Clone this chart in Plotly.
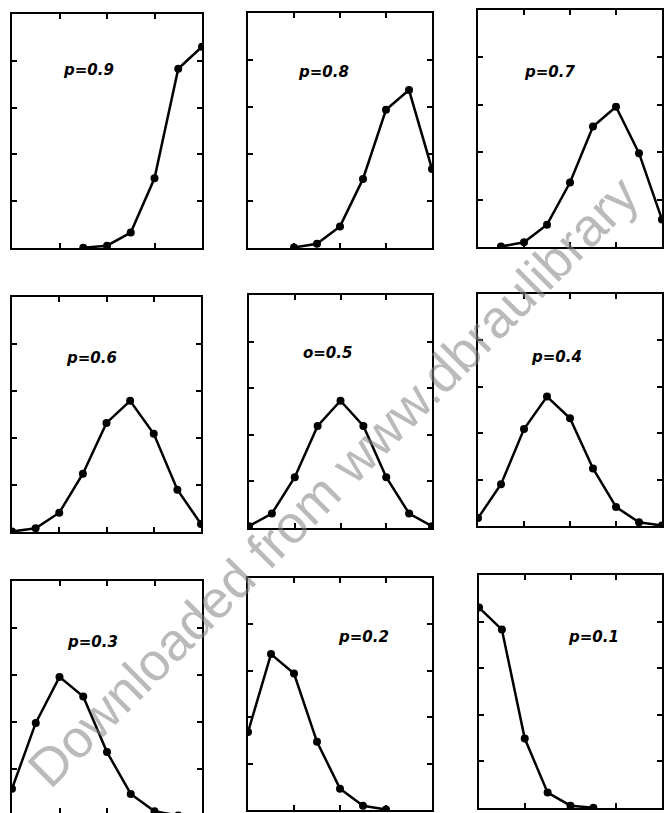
import plotly.graph_objects as go

# ---------------- data ----------------
successes = [0, 1, 2, 3, 4, 5, 6, 7, 8]

p_labels = ["p=0.9", "p=0.8", "p=0.7",
            "p=0.6", "o=0.5", "p=0.4",
            "p=0.3", "p=0.2", "p=0.1"]

prob_p09 = [None, None, None, 0.0004, 0.005, 0.033, 0.149, 0.383, 0.430]
prob_p08 = [None, None, 0.001, 0.009, 0.046, 0.147, 0.294, 0.336, 0.168]
prob_p07 = [None, 0.001, 0.010, 0.047, 0.136, 0.254, 0.296, 0.198, 0.058]
prob_p06 = [0.001, 0.008, 0.041, 0.124, 0.232, 0.279, 0.209, 0.090, 0.017]
prob_p05 = [0.004, 0.031, 0.109, 0.219, 0.273, 0.219, 0.109, 0.031, 0.004]
prob_p04 = [0.017, 0.090, 0.209, 0.279, 0.232, 0.124, 0.041, 0.008, 0.001]
prob_p03 = [0.058, 0.198, 0.296, 0.254, 0.136, 0.047, 0.010, 0.001, None]
prob_p02 = [0.168, 0.336, 0.294, 0.147, 0.046, 0.009, 0.001, None, None]
prob_p01 = [0.430, 0.383, 0.149, 0.033, 0.005, 0.0004, None, None, None]

series = [prob_p09, prob_p08, prob_p07,
          prob_p06, prob_p05, prob_p04,
          prob_p03, prob_p02, prob_p01]

x_ticks = [2, 4, 6]
y_ticks = [0.1, 0.2, 0.3, 0.4]

# ---------------- layout (pixel boxes: left, right, top, bottom) ----------------
W, H = 665, 813
boxes = [
    (12, 202, 14, 248), (248, 432, 13, 248), (478, 662, 10, 247),
    (12, 201, 297, 532), (249, 432, 295, 528), (478, 662, 294, 526),
    (12, 202, 581, 813), (248, 432, 578, 810), (479, 662, 575, 808),
]
y_min = [0, 0, 0, 0, 0, 0, 0.0064, 0, 0]
label_pos = [(3.2, 0.38), (3.3, 0.374), (3.1, 0.37),
             (3.35, 0.37), (3.45, 0.376), (3.4, 0.364),
             (3.4, 0.37), (5.0, 0.373), (5.0, 0.367)]

fig = go.Figure()
annotations = []
for i, (vals, box) in enumerate(zip(series, boxes)):
    k = "" if i == 0 else str(i + 1)
    fig.add_trace(go.Scatter(
        x=successes, y=vals, mode="lines+markers",
        line=dict(color="black", width=2.5),
        marker=dict(color="black", size=8),
        connectgaps=False, showlegend=False,
        xaxis="x" + k, yaxis="y" + k,
    ))
    l, r, t, b = box
    axis_common = dict(showline=True, linecolor="black", linewidth=2,
                       mirror="ticks", ticks="inside", ticklen=5,
                       tickwidth=1.5, tickcolor="black",
                       showticklabels=False, showgrid=False, zeroline=False,
                       fixedrange=True)
    fig.layout["xaxis" + k] = dict(domain=[l / W, r / W], range=[0, 8],
                                   tickvals=x_ticks, anchor="y" + k,
                                   **axis_common)
    fig.layout["yaxis" + k] = dict(domain=[1 - b / H, 1 - t / H],
                                   range=[y_min[i], 0.5],
                                   tickvals=y_ticks, anchor="x" + k,
                                   **axis_common)
    lx, ly = label_pos[i]
    annotations.append(dict(
        x=lx, y=ly, xref="x" + k, yref="y" + k, showarrow=False,
        text="<b><i>" + p_labels[i] + "</i></b>",
        font=dict(family="DejaVu Sans", size=15, color="black"),
    ))

annotations.append(dict(
    x=333 / W, y=1 - 482 / H, xref="paper", yref="paper", showarrow=False,
    text="Downloaded from www.dbraulibrary",
    textangle=-45,
    font=dict(family="Liberation Sans", size=53, color="rgba(130,130,130,0.55)"),
))

fig.update_layout(
    width=W, height=H,
    margin=dict(l=0, r=0, t=0, b=0),
    paper_bgcolor="white", plot_bgcolor="white",
    annotations=annotations,
)

fig.write_html("out.html", config={"displayModeBar": False})
